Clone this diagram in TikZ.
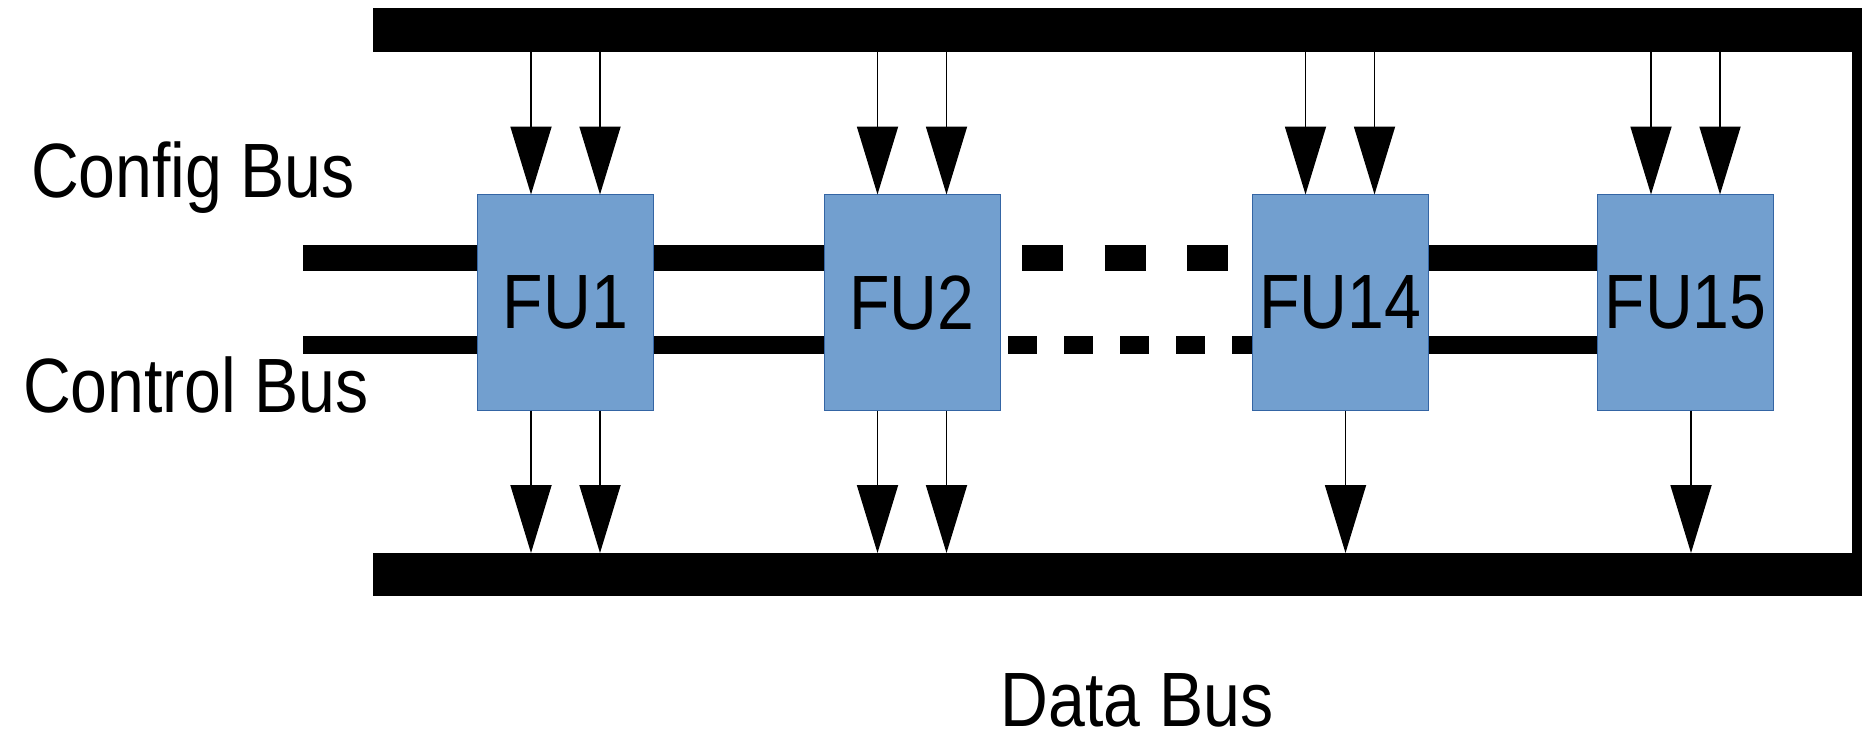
\documentclass[tikz,border=0pt]{standalone}
\usepackage{fontspec}
\usetikzlibrary{arrows.meta}
\newfontfamily\busfamily[FakeStretch=0.86]{Liberation Sans}
\newcommand\busfont{\busfamily\fontsize{77pt}{80pt}\selectfont}
\definecolor{fufill}{HTML}{729FCF}
\definecolor{fuborder}{HTML}{3465A4}
\tikzset{
  fu/.style={draw=fuborder, fill=fufill, line width=1pt, minimum width=176pt,
    minimum height=216pt, inner sep=0pt, outer sep=0pt, font=\busfont},
  busbar/.style={fill=black, draw=none, inner sep=0pt, outer sep=0pt, anchor=north west},
  cfgline/.style={line width=26pt},
  ctlline/.style={line width=18pt},
  feed/.style={line width=1.8pt, -{Triangle[length=68pt,width=41pt]}},
  lbl/.style={inner sep=0pt, anchor=base, font=\busfont}
}
\begin{document}
\begin{tikzpicture}[x=1pt,y=-1pt]
\useasboundingbox (0,0) rectangle (1862,737);

% data bus: top rail, bottom rail and the closing rail on the right
\node[busbar, minimum width=1489pt, minimum height=44pt] (topbus) at (373,8) {};
\node[busbar, minimum width=1489pt, minimum height=43pt] (bottombus) at (373,553) {};
\node[busbar, minimum width=10pt, minimum height=588pt] (rightbus) at (1852,8) {};

% functional units
\node[fu] (fu1)  at (565.5,302.5) {FU1};
\node[fu] (fu2)  at (912,302.5)   {FU2};
\node[fu] (fu14) at (1340,302.5)  {FU14};
\node[fu] (fu15) at (1685.5,302.5){FU15};

% config bus
\coordinate (cfgstart) at (303,258);
\coordinate (cfgdashA) at (1022,258);
\coordinate (cfgdashB) at (1228,258);
\draw[cfgline] (cfgstart) -- (cfgstart -| fu1.west);
\draw[cfgline] (fu1.east |- cfgstart) -- (fu2.west |- cfgstart);
\draw[cfgline, dash pattern=on 41pt off 41.5pt] (cfgdashA) -- (cfgdashB);
\draw[cfgline] (fu14.east |- cfgstart) -- (fu15.west |- cfgstart);

% control bus
\coordinate (ctlstart) at (303,344.5);
\coordinate (ctldash) at (1008,344.5);
\draw[ctlline] (ctlstart) -- (ctlstart -| fu1.west);
\draw[ctlline] (fu1.east |- ctlstart) -- (fu2.west |- ctlstart);
\draw[ctlline, dash pattern=on 29pt off 27pt] (ctldash) -- (fu14.west |- ctldash);
\draw[ctlline] (fu14.east |- ctlstart) -- (fu15.west |- ctlstart);

% redraw unit borders above the bus lines
\foreach \n in {fu1,fu2,fu14,fu15}{
  \draw[fuborder, line width=1pt] (\n.north west) rectangle (\n.south east);
}

% inputs from the data bus
\foreach \n in {fu1,fu2,fu14,fu15}{
  \foreach \dx in {-34.5,34.5}{
    \path (\n.north) ++(\dx,0) coordinate (tin);
    \draw[feed] (tin |- topbus.south) -- (tin);
  }
}

% outputs to the data bus
\foreach \n in {fu1,fu2}{
  \foreach \dx in {-34.5,34.5}{
    \path (\n.south) ++(\dx,0) coordinate (tout);
    \draw[feed] (tout) -- (tout |- bottombus.north);
  }
}
\foreach \n in {fu14,fu15}{
  \path (\n.south) ++(5.5,0) coordinate (tout);
  \draw[feed] (tout) -- (tout |- bottombus.north);
}

% labels
\node[lbl] (cfglabel) at (193,197) {Config Bus};
\node[lbl] (ctllabel) at (196,412) {Control Bus};
\node[lbl] (datalabel) at (1137,726) {Data Bus};
\end{tikzpicture}
\end{document}
